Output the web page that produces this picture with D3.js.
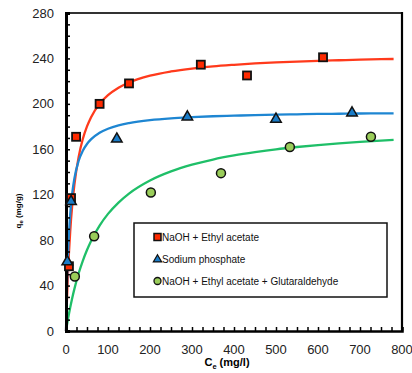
<!DOCTYPE html>
<html><head><meta charset="utf-8">
<script src="https://cdn.jsdelivr.net/npm/d3@7"></script>
<style>body{margin:0;background:#fff}svg{display:block}</style>
</head><body><svg id="c" width="412" height="373"></svg>
<script>
const seriesNames = ["NaOH + Ethyl acetate", "Sodium phosphate", "NaOH + Ethyl acetate + Glutaraldehyde"];
const redX = [7, 12, 24, 80, 150, 321, 431, 612];
const redY = [57, 117, 171, 200, 218, 234.5, 225, 241];
const blueX = [3, 12, 121, 289, 500, 681];
const blueY = [61, 114, 169, 188.5, 186.5, 192];
const greenX = [21, 67, 202, 369, 533, 726];
const greenY = [48, 83.5, 122, 139, 162, 171];
const fitX = [0, 2, 5, 10, 15, 20, 30, 40, 50, 60, 80, 100, 125, 150, 200, 250, 300, 350, 400, 450, 500, 550, 600, 650, 700, 750, 780];
const fitRed = [0, 24.5, 53.3, 87.5, 111.4, 128.9, 153.1, 169.0, 180.1, 188.5, 200.0, 207.6, 214.2, 218.8, 224.8, 228.5, 231.1, 233.0, 234.4, 235.6, 236.5, 237.2, 237.9, 238.4, 238.9, 239.3, 239.5];
const fitBlue = [0, 35.7, 70.0, 102.9, 121.9, 134.4, 149.7, 158.8, 164.7, 168.9, 174.6, 178.1, 181.1, 183.1, 185.7, 187.3, 188.3, 189.1, 189.6, 190.1, 190.5, 190.8, 191.1, 191.3, 191.5, 191.6, 191.7];
const fitGreen = [0, 4.5, 10.9, 20.6, 29.3, 37.1, 50.6, 61.8, 71.3, 79.5, 92.8, 103.1, 113.1, 121.0, 132.5, 140.5, 146.4, 151.0, 154.6, 157.5, 160.0, 162.0, 163.7, 165.2, 166.5, 167.6, 168.2];
const xTicks = [0, 100, 200, 300, 400, 500, 600, 700, 800];
const yTicks = [0, 40, 80, 120, 160, 200, 240, 280];

const svg = d3.select("#c");
const L = 66, R = 402, T = 13, B = 331;
const x = d3.scaleLinear().domain([0, 800]).range([L, R]);
const y = d3.scaleLinear().domain([0, 280]).range([B, T]);
const font = "Liberation Sans, Arial, sans-serif";

// frame top/right
svg.append("line").attr("x1", L).attr("x2", R).attr("y1", T).attr("y2", T).attr("stroke", "#333").attr("stroke-width", 2);
svg.append("line").attr("x1", R).attr("x2", R).attr("y1", T - 1).attr("y2", B + 1).attr("stroke", "#000").attr("stroke-width", 2.2);

// curves
const line = d3.line().x((d) => x(d[0])).y((d) => y(d[1])).curve(d3.curveMonotoneX);
const fits = [[fitRed, "#ff3a1c"], [fitBlue, "#1e86d2"], [fitGreen, "#1fbf68"]];
fits.forEach(([vals, col]) => {
  svg.append("path").datum(fitX.map((v, i) => [v, vals[i]])).attr("d", line)
    .attr("fill", "none").attr("stroke", col).attr("stroke-width", 2.3);
});

// axes
const yAxis = d3.axisLeft(y).tickValues(d3.range(0, 281, 10)).tickSize(-4).tickFormat("");
const gy = svg.append("g").attr("transform", `translate(${L},0)`).call(yAxis);
gy.select(".domain").attr("stroke", "#000").attr("stroke-width", 3);
gy.selectAll(".tick line").attr("stroke", "#000").attr("stroke-width", 1.5);
const xAxis = d3.axisBottom(x).tickValues(d3.range(0, 801, 25)).tickSize(-4).tickFormat("");
const gx = svg.append("g").attr("transform", `translate(0,${B})`).call(xAxis);
gx.select(".domain").attr("stroke", "#000").attr("stroke-width", 2.5);
gx.selectAll(".tick line").attr("stroke", "#000").attr("stroke-width", 1.5);

// tick labels
svg.append("g").selectAll("text").data(yTicks).join("text")
  .attr("x", 54).attr("y", (d) => y(d) + 4.5).attr("text-anchor", "end")
  .attr("font-family", font).attr("font-size", 13).attr("fill", "#222").text((d) => d);
svg.append("g").selectAll("text").data(xTicks).join("text")
  .attr("x", (d) => x(d)).attr("y", 354).attr("text-anchor", "middle")
  .attr("font-family", font).attr("font-size", 13).attr("fill", "#222").text((d) => d);

// axis titles
const xt = svg.append("text").attr("x", 227).attr("y", 366).attr("text-anchor", "middle")
  .attr("font-family", font).attr("font-size", 11).attr("font-weight", "bold");
xt.append("tspan").text("C");
xt.append("tspan").attr("font-size", 7.5).attr("dy", 2.5).text("e");
xt.append("tspan").attr("dy", -2.5).text(" (mg/l)");
const yt = svg.append("text").attr("transform", "translate(21,211) rotate(-90)").attr("text-anchor", "middle")
  .attr("font-family", font).attr("font-size", 8).attr("font-weight", "bold");
yt.append("tspan").text("q");
yt.append("tspan").attr("font-size", 6).attr("dy", 2).text("e");
yt.append("tspan").attr("dy", -2).text(" (mg/g)");

// markers
function squares(g, xs, ys, s) {
  g.selectAll("rect").data(xs).join("rect")
    .attr("x", (d) => x(d) - s / 2).attr("y", (d, i) => y(ys[i]) - s / 2).attr("width", s).attr("height", s)
    .attr("fill", "#ff2a00").attr("stroke", "#111").attr("stroke-width", 1.8);
}
const tri = d3.symbol().type(d3.symbolTriangle).size(48);
function triangles(g, xs, ys) {
  g.selectAll("path").data(xs).join("path").attr("d", tri)
    .attr("transform", (d, i) => `translate(${x(d)},${y(ys[i])})`)
    .attr("fill", "#1a7cc8").attr("stroke", "#111").attr("stroke-width", 1.5);
}
function circles(g, xs, ys, r) {
  g.selectAll("circle").data(xs).join("circle")
    .attr("cx", (d) => x(d)).attr("cy", (d, i) => y(ys[i])).attr("r", r)
    .attr("fill", "#9acd5a").attr("stroke", "#111").attr("stroke-width", 1.5);
}
squares(svg.append("g"), redX, redY, 8);
triangles(svg.append("g"), blueX, blueY);
circles(svg.append("g"), greenX, greenY, 4.5);

// legend
const lg = svg.append("g");
lg.append("rect").attr("x", 134).attr("y", 223).attr("width", 253).attr("height", 74)
  .attr("fill", "#fff").attr("stroke", "#111").attr("stroke-width", 1.5);
const rowsY = [237, 259, 281];
lg.append("rect").attr("x", 154).attr("y", rowsY[0] - 3.5).attr("width", 7).attr("height", 7)
  .attr("fill", "#ff2a00").attr("stroke", "#111").attr("stroke-width", 1.5);
lg.append("path").attr("d", d3.symbol().type(d3.symbolTriangle).size(30))
  .attr("transform", `translate(157.5,${rowsY[1] + 0.5})`).attr("fill", "#1a7cc8").attr("stroke", "#111").attr("stroke-width", 1.2);
lg.append("circle").attr("cx", 157.5).attr("cy", rowsY[2]).attr("r", 3.5)
  .attr("fill", "#9acd5a").attr("stroke", "#111").attr("stroke-width", 1.3);
lg.selectAll("text.l").data(seriesNames).join("text").attr("class", "l")
  .attr("x", 162).attr("y", (d, i) => rowsY[i] + 3.5)
  .attr("font-family", font).attr("font-size", 10).attr("fill", "#111").text((d) => d);
</script></body></html>
